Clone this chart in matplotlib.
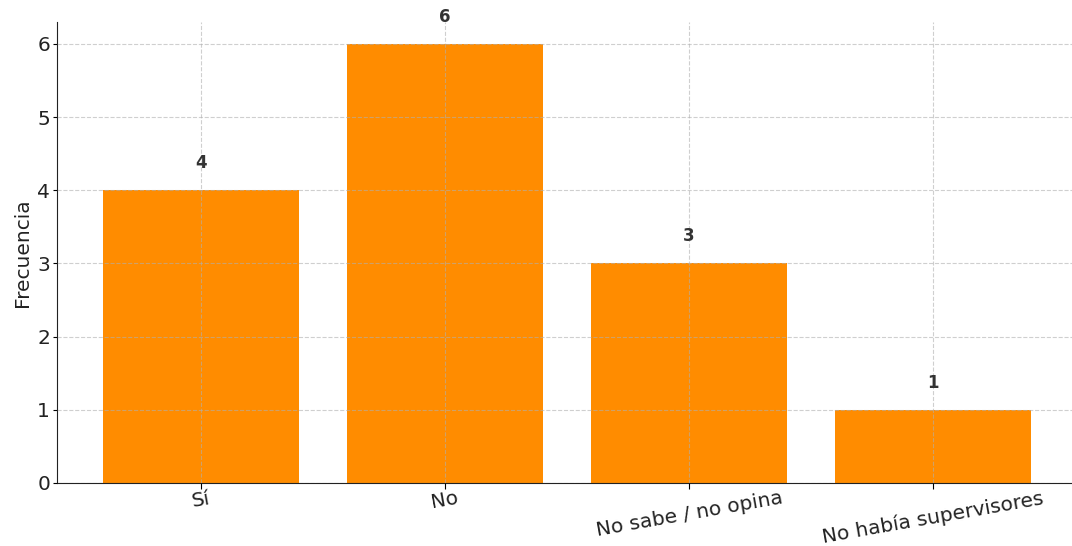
import numpy as np
from matplotlib import pyplot as plt

categorias = ["Sí", "No", "No sabe / no opina", "No había supervisores"]
frecuencias = [4, 6, 3, 1]

fig = plt.figure(figsize=(10.72, 5.46), dpi=100)
ax = fig.add_axes([0.0532, 0.1154, 0.9515, 0.8443])

x = np.arange(len(categorias))
ax.bar(x, frecuencias, width=0.8, color="#FF8C00")

for xi, v in zip(x, frecuencias):
    ax.text(xi, v + 0.25, str(v), ha="center", va="bottom",
            fontsize=12, fontweight="bold", color="#333333")

ax.set_xticks(x)
ax.set_xticklabels(categorias, rotation=10, ha="center", fontsize=14.5, color="#222222")
ax.tick_params(axis="y", labelsize=14.5, labelcolor="#222222", pad=2, length=3)
ax.tick_params(axis="x", pad=0, length=4)
ax.set_ylabel("Frecuencia", fontsize=14.5, color="#222222", labelpad=4)
ax.set_ylim(0, 6.3)

ax.set_axisbelow(False)
ax.grid(True, linestyle="--", color="#b0b0b0", alpha=0.6, linewidth=0.8)
ax.spines["top"].set_visible(False)
ax.spines["right"].set_visible(False)
ax.spines["left"].set_color("#222222")
ax.spines["bottom"].set_color("#222222")

fig.savefig("out.png", dpi=100)
